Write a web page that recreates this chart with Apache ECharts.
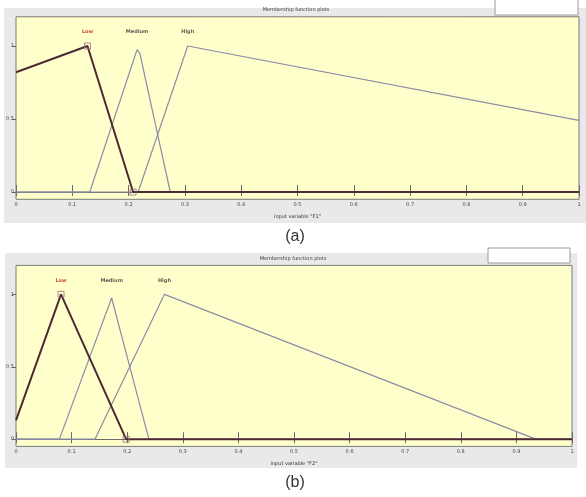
<!DOCTYPE html>
<html>
<head>
<meta charset="utf-8">
<script src="https://cdn.jsdelivr.net/npm/echarts@6/dist/echarts.min.js"></script>
<style>html,body{margin:0;padding:0;background:#fff;}#c{width:586px;height:497px;}</style>
</head>
<body>
<div id="c"></div>
<script>
// ---- data (panel a: input variable "F1") ----
var lowA = [[0, 0.82], [0.127, 1], [0.208, 0], [1, 0]];
var mediumA = [[0, 0], [0.131, 0], [0.215, 0.975], [0.220, 0.95], [0.274, 0], [1, 0]];
var highA = [[0, 0], [0.217, 0], [0.305, 1], [1, 0.49]];
var lowMarkA = [[0.127, 1], [0.208, 0]];
// ---- data (panel b: input variable "F2") ----
var lowB = [[0, 0.13], [0.081, 1], [0.198, 0], [1, 0]];
var mediumB = [[0, 0], [0.078, 0], [0.172, 0.975], [0.239, 0], [1, 0]];
var highB = [[0, 0], [0.142, 0], [0.267, 1], [0.935, 0], [1, 0]];
var lowMarkB = [[0.081, 1], [0.198, 0]];
// ---- labels ----
var mfNames = ['Low', 'Medium', 'High'];
var labelPosA = [0.127, 0.215, 0.305];
var labelPosB = [0.081, 0.172, 0.267];
var labelY = 1.095;
var yTicks = [0, 0.5, 1];
var xTickLabels = ['0', '0.1', '0.2', '0.3', '0.4', '0.5', '0.6', '0.7', '0.8', '0.9', '1'];

var chart = echarts.init(document.getElementById('c'), null, {renderer: 'canvas'});
var fnt = 'DejaVu Sans';
var lineCol = '#8c8ca6';
var lowCol = '#4d2a33';

function grid(top, height, width) {
  return {left: 16, top: top, width: width, height: height, show: true,
    backgroundColor: '#ffffcc', borderColor: '#7a7a7a', borderWidth: 1};
}
function xAxes(gi, name) {
  return [{
    type: 'value', gridIndex: gi, min: 0, max: 1, interval: 0.1, position: 'bottom',
    axisLine: {show: true, lineStyle: {color: '#6a6a6a', width: 1}},
    axisTick: {show: true, inside: true, length: 7, lineStyle: {color: '#6a6a6a'}},
    axisLabel: {fontSize: 5, color: '#444', fontFamily: fnt, margin: 3,
      formatter: function (v) { return xTickLabels[Math.round(v * 10)]; }},
    splitLine: {show: false},
    name: name, nameLocation: 'middle', nameGap: 15,
    nameTextStyle: {fontSize: 5, color: '#333', fontFamily: fnt}
  }, {
    type: 'value', gridIndex: gi, min: 0, max: 1, interval: 0.1, position: 'top',
    axisLine: {show: false},
    axisTick: {show: true, inside: true, length: 4, lineStyle: {color: '#6a6a6a'}},
    axisLabel: {show: false}, splitLine: {show: false}
  }];
}
function yAxes(gi) {
  return [{
    type: 'value', gridIndex: gi, min: -0.05, max: 1.2, position: 'left',
    axisLine: {show: false},
    axisTick: {show: true, inside: false, length: 4, customValues: yTicks, lineStyle: {color: '#6a6a6a'}},
    axisLabel: {show: true, fontSize: 5, color: '#444', fontFamily: fnt, margin: 2, customValues: yTicks},
    splitLine: {show: false}
  }, {
    type: 'value', gridIndex: gi, min: -0.05, max: 1.2, position: 'right',
    axisLine: {show: false},
    axisTick: {show: true, inside: true, length: 4, customValues: yTicks, lineStyle: {color: '#6a6a6a'}},
    axisLabel: {show: false}, splitLine: {show: false}
  }];
}
function lineSeries(xi, yi, data, color, width, z) {
  return {type: 'line', xAxisIndex: xi, yAxisIndex: yi, data: data, symbol: 'none',
    lineStyle: {color: color, width: width}, z: z, animation: false, silent: true};
}
function markSeries(xi, yi, data) {
  return {type: 'scatter', xAxisIndex: xi, yAxisIndex: yi, data: data, symbol: 'rect', symbolSize: 6,
    itemStyle: {color: 'rgba(0,0,0,0)', borderColor: '#9a6a78', borderWidth: 1}, z: 5, animation: false, silent: true};
}
function labelSeries(xi, yi, pos) {
  return {type: 'scatter', xAxisIndex: xi, yAxisIndex: yi, symbolSize: 0, animation: false, silent: true,
    data: pos.map(function (p, i) { return {value: [p, labelY], name: mfNames[i]}; }),
    label: {show: true, position: 'inside', fontSize: 5, fontFamily: fnt, fontWeight: 'bold',
      formatter: '{b}',
      color: function () { return '#222'; }},
    labelLayout: {},
    z: 6};
}

var labA = labelSeries(0, 0, labelPosA);
var labB = labelSeries(2, 2, labelPosB);
labA.data[0].label = {color: '#b52020'};
labB.data[0].label = {color: '#b52020'};
labA.label.color = '#333';
labB.label.color = '#333';

var option = {
  animation: false,
  grid: [grid(16.8, 182.5, 563), grid(265.4, 181, 556)],
  xAxis: xAxes(0, 'input variable "F1"').concat(xAxes(1, 'input variable "F2"')),
  yAxis: yAxes(0).concat(yAxes(1)),
  graphic: [
    {type: 'rect', shape: {x: 4, y: 8, width: 582, height: 215}, style: {fill: '#e9e9e9'}, z: -10},
    {type: 'rect', shape: {x: 495, y: -1, width: 83, height: 16}, style: {fill: '#ffffff', stroke: '#9a9a9a', lineWidth: 1}, z: -9},
    {type: 'text', x: 296, y: 10, style: {text: 'Membership function plots', fontSize: 5, fontFamily: fnt, fill: '#333', align: 'center', verticalAlign: 'middle'}, z: 10},
    {type: 'rect', shape: {x: 5, y: 253, width: 572, height: 215}, style: {fill: '#e9e9e9'}, z: -10},
    {type: 'rect', shape: {x: 488, y: 248, width: 82, height: 15}, style: {fill: '#ffffff', stroke: '#9a9a9a', lineWidth: 1}, z: -9},
    {type: 'text', x: 293, y: 259, style: {text: 'Membership function plots', fontSize: 5, fontFamily: fnt, fill: '#333', align: 'center', verticalAlign: 'middle'}, z: 10},
    {type: 'text', x: 295, y: 237, style: {text: '(a)', fontSize: 16, fontFamily: 'Liberation Sans', fill: '#333', align: 'center', verticalAlign: 'middle'}, z: 10},
    {type: 'text', x: 295, y: 483, style: {text: '(b)', fontSize: 16, fontFamily: 'Liberation Sans', fill: '#333', align: 'center', verticalAlign: 'middle'}, z: 10}
  ],
  series: [
    lineSeries(0, 0, mediumA, lineCol, 1.2, 2),
    lineSeries(0, 0, highA, lineCol, 1.2, 2),
    lineSeries(0, 0, lowA, lowCol, 2, 3),
    markSeries(0, 0, lowMarkA),
    labA,
    lineSeries(2, 2, mediumB, lineCol, 1.2, 2),
    lineSeries(2, 2, highB, lineCol, 1.2, 2),
    lineSeries(2, 2, lowB, lowCol, 2, 3),
    markSeries(2, 2, lowMarkB),
    labB
  ]
};
chart.setOption(option);
</script>
</body>
</html>
